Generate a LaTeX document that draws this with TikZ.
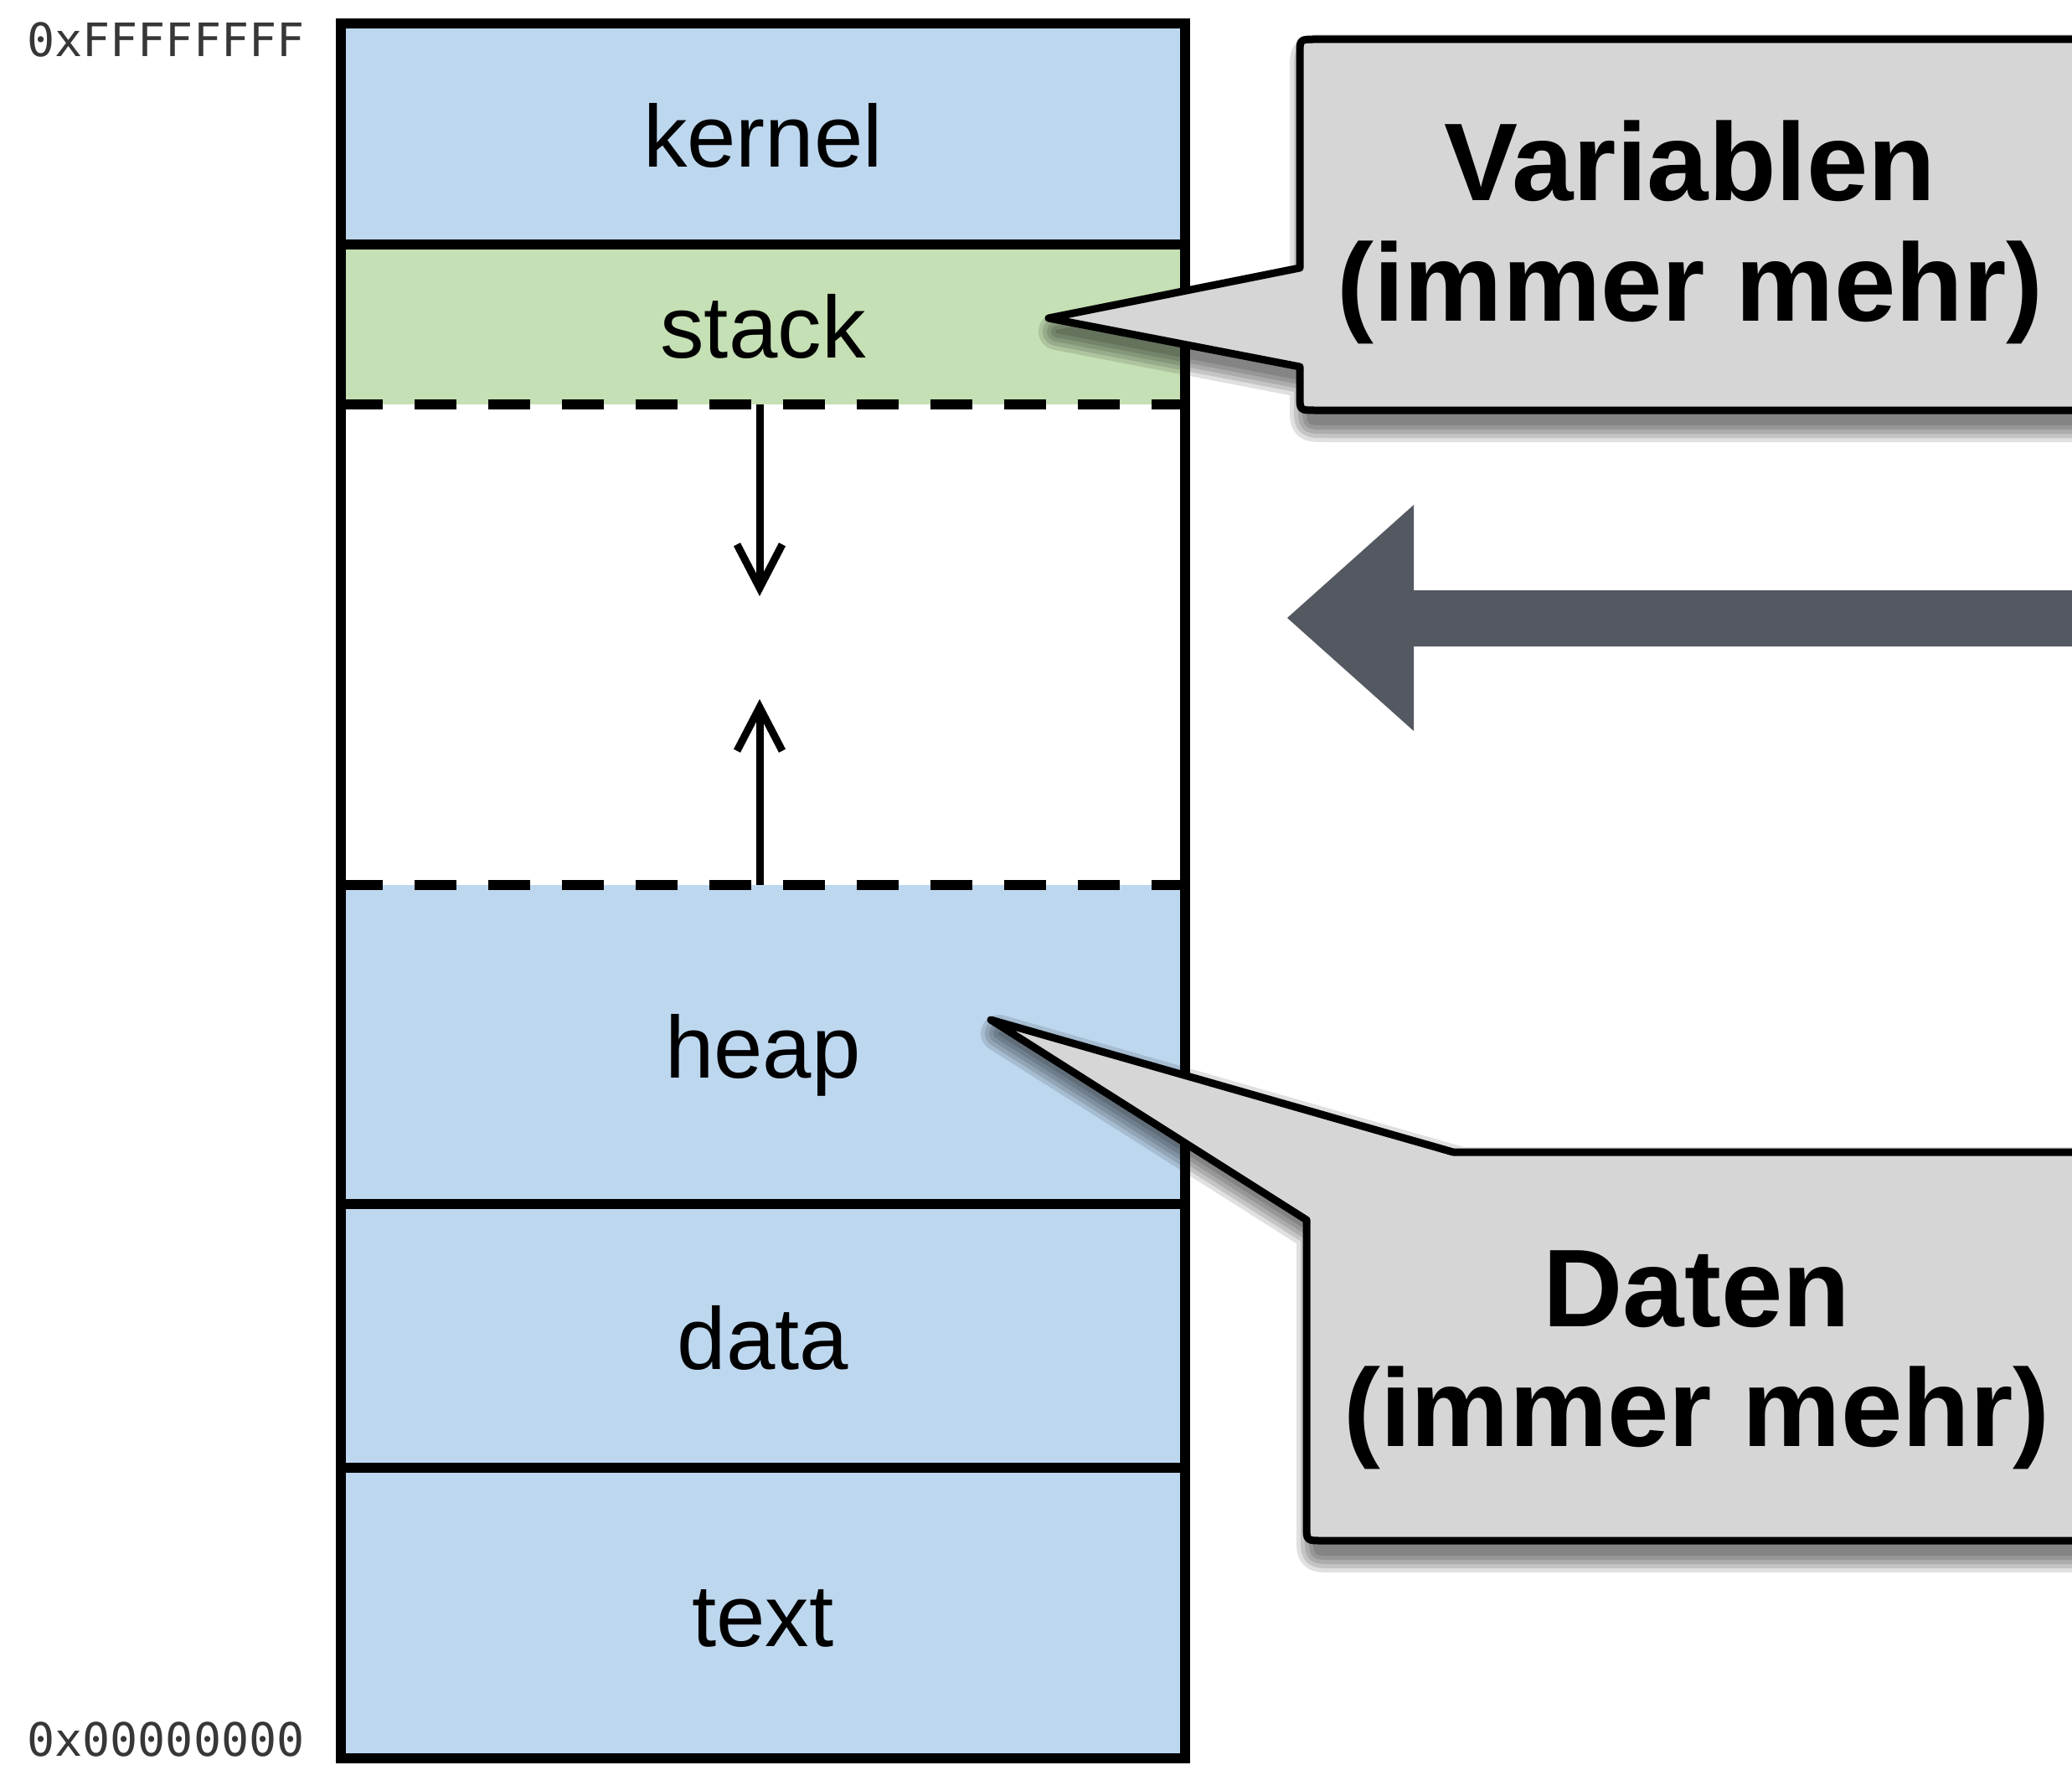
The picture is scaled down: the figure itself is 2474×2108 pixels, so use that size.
\documentclass[tikz,border=0pt]{standalone}
\usepackage{fontspec}
\setmainfont{Liberation Sans}
\newfontfamily\addrfont{DejaVu Sans Mono}
\usetikzlibrary{arrows.meta}

\definecolor{segblue}{RGB}{189,215,238}
\definecolor{seggreen}{RGB}{197,224,180}
\definecolor{notegray}{RGB}{214,214,214}
\definecolor{bigarrow}{RGB}{84,88,96}
\definecolor{addrgray}{RGB}{55,55,55}

\begin{document}
\begin{tikzpicture}[x=0.5pt, y=-0.5pt,
  memseg/.style={rectangle, inner sep=0pt, minimum width=504pt,
    text height=40pt, text depth=0pt, font=\fontsize{52.5}{60}\selectfont},
  wall/.style={line width=6pt, line cap=rect},
  brk/.style={line width=6pt, dash pattern=on 25pt off 19pt},
  growth/.style={line width=4.5pt, -{Straight Barb[length=26pt,width=27pt]}},
  notetext/.style={inner sep=0pt, font=\bfseries\fontsize{66}{72}\selectfont},
  addr/.style={inner sep=0pt, text=addrgray, font=\addrfont\fontsize{27.5}{30}\selectfont},
  callout/.style={fill=notegray, draw=black, line width=4.5pt, line join=round}
]
\useasboundingbox (0,0) rectangle (2474,2108);
\fill[white] (0,0) rectangle (2474,2108);
\clip (0,0) rectangle (2474,2108);

% address bounds
\node[addr, anchor=base west] (addrhi) at (32,68) {0xFFFFFFFF};
\node[addr, anchor=base west] (addrlo) at (32,2097) {0x00000000};

% memory segments, top to bottom
\node[memseg, fill=segblue,  minimum height=132pt]   (kernelseg) at (911,160)    {kernel};
\node[memseg, fill=seggreen, minimum height=95.5pt]  (stackseg)  at (911,387.5)  {stack};
\node[memseg, fill=white,    minimum height=287pt]   (freeseg)   at (911,770)    {};
\node[memseg, fill=segblue,  minimum height=190.5pt] (heapseg)   at (911,1247.5) {heap};
\node[memseg, fill=segblue,  minimum height=157.5pt] (dataseg)   at (911,1595.5) {data};
\node[memseg, fill=segblue,  minimum height=173.5pt] (textseg)   at (911,1926.5) {text};

% movable limits of stack and heap
\draw[brk] (stackseg.south west) -- (stackseg.south east);
\draw[brk] (heapseg.north west) -- (heapseg.north east);

% fixed boundaries and outer frame
\draw[wall] (kernelseg.south west) -- (kernelseg.south east);
\draw[wall] (heapseg.south west) -- (heapseg.south east);
\draw[wall] (dataseg.south west) -- (dataseg.south east);
\draw[wall] (kernelseg.north west) rectangle (textseg.south east);

% growth directions
\coordinate (stacktip) at (907,712);
\coordinate (heaptip) at (907,835);
\draw[growth] (stackseg.south -| stacktip) -- (stacktip);
\draw[growth] (heapseg.north -| heaptip) -- (heaptip);

% callout outlines
\def\varnote{(1252,380) -- (1552,438) -- (1552,472) .. controls (1552,490) .. (1570,490)
  -- (2540,490) -- (2540,47) -- (1570,47) .. controls (1552,47) .. (1552,65)
  -- (1552,320) -- cycle}
\def\datnote{(1183,1218) -- (1735,1376) -- (2540,1376) -- (2540,1840) -- (1578,1840)
  .. controls (1560,1840) .. (1560,1822) -- (1560,1457) -- cycle}

% soft drop shadows
\foreach \w in {22pt,17pt,12pt,7pt,2pt}{
  \begin{scope}[transparency group, opacity=0.12]
    \filldraw[black, line width=\w, line join=round, shift={(10,16)}] \varnote;
  \end{scope}
  \begin{scope}[transparency group, opacity=0.12]
    \filldraw[black, line width=\w, line join=round, shift={(10,16)}] \datnote;
  \end{scope}
}

\draw[callout] \varnote;
\node[notetext, anchor=base] (var1) at (2018,240) {Variablen};
\node[notetext, anchor=base] (var2) at (2018,383) {(immer mehr)};

\draw[callout] \datnote;
\node[notetext, anchor=base] (dat1) at (2026,1584) {Daten};
\node[notetext, anchor=base] (dat2) at (2026,1727) {(immer mehr)};

% big pointing arrow
\fill[bigarrow] (1537,738) -- (1688,603) -- (1688,705) -- (2540,705) -- (2540,772)
  -- (1688,772) -- (1688,873) -- cycle;
\end{tikzpicture}
\end{document}
